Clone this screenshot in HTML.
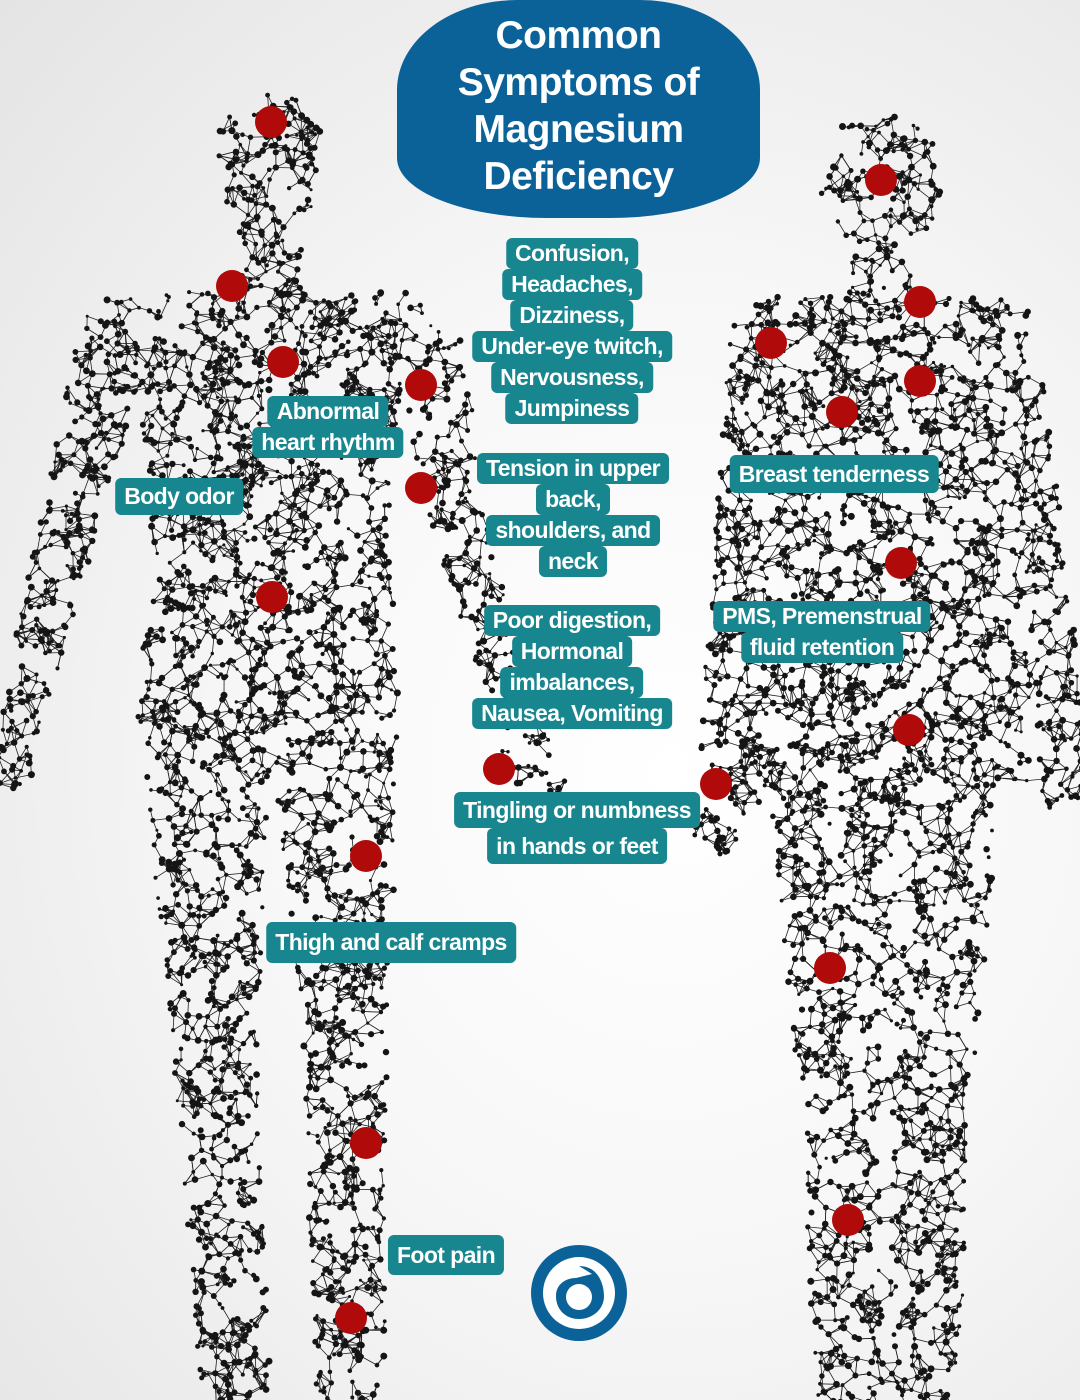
<!DOCTYPE html>
<html><head><meta charset="utf-8">
<style>
html,body{margin:0;padding:0}
body{width:1080px;height:1400px;position:relative;overflow:hidden;
background:radial-gradient(ellipse at 62% 55%,#ffffff 0%,#f7f7f7 45%,#e4e4e4 100%);
font-family:"Liberation Sans",sans-serif}
svg#fig{position:absolute;left:0;top:0}
.title{position:absolute;left:397px;top:0;width:363px;height:218px;background:#0b6298;border-radius:0 0 150px 150px / 0 0 60px 60px;
border-top-left-radius:120px 90px;border-top-right-radius:120px 90px;color:#fff;font-weight:bold;font-size:39px;line-height:47px;text-align:center;padding-top:12px;box-sizing:border-box;letter-spacing:-0.5px}
.lab{position:absolute;text-align:center;transform:translateX(-50%);white-space:nowrap}
.lab span{display:inline-block;background:#18868f;color:#fff;font-weight:bold;font-size:23px;letter-spacing:-0.6px;padding:0 9px;border-radius:6px;line-height:31px;margin:0}
.dot{position:absolute;width:32px;height:32px;border-radius:50%;background:#b00a0a;margin:-16px 0 0 -16px}
</style></head><body>
<svg id="fig" width="1080" height="1400" xmlns="http://www.w3.org/2000/svg"></svg>

<div class="title">Common<br>Symptoms of<br>Magnesium<br>Deficiency</div>

<div class="lab" style="left:572px;top:238px"><span>Confusion,</span><br><span>Headaches,</span><br><span>Dizziness,</span><br><span>Under-eye twitch,</span><br><span>Nervousness,</span><br><span>Jumpiness</span></div>
<div class="lab" style="left:328px;top:396px"><span>Abnormal</span><br><span>heart rhythm</span></div>
<div class="lab" style="left:179px;top:478px"><span style="line-height:37px">Body odor</span></div>
<div class="lab" style="left:573px;top:453px"><span>Tension in upper</span><br><span>back,</span><br><span>shoulders, and</span><br><span>neck</span></div>
<div class="lab" style="left:834px;top:455px"><span style="line-height:38px">Breast tenderness</span></div>
<div class="lab" style="left:572px;top:605px"><span>Poor digestion,</span><br><span>Hormonal</span><br><span>imbalances,</span><br><span>Nausea, Vomiting</span></div>
<div class="lab" style="left:822px;top:601px"><span>PMS, Premenstrual</span><br><span>fluid retention</span></div>
<div class="lab" style="left:577px;top:792px"><span style="line-height:36px">Tingling or numbness</span><br><span style="line-height:36px">in hands or feet</span></div>
<div class="lab" style="left:391px;top:922px"><span style="line-height:41px">Thigh and calf cramps</span></div>
<div class="lab" style="left:446px;top:1235px"><span style="line-height:40px">Foot pain</span></div>

<div class="dot" style="left:271px;top:122px"></div>
<div class="dot" style="left:232px;top:286px"></div>
<div class="dot" style="left:283px;top:362px"></div>
<div class="dot" style="left:421px;top:385px"></div>
<div class="dot" style="left:421px;top:488px"></div>
<div class="dot" style="left:272px;top:597px"></div>
<div class="dot" style="left:366px;top:856px"></div>
<div class="dot" style="left:366px;top:1143px"></div>
<div class="dot" style="left:351px;top:1318px"></div>
<div class="dot" style="left:499px;top:769px"></div>
<div class="dot" style="left:716px;top:784px"></div>
<div class="dot" style="left:881px;top:180px"></div>
<div class="dot" style="left:920px;top:302px"></div>
<div class="dot" style="left:771px;top:343px"></div>
<div class="dot" style="left:920px;top:381px"></div>
<div class="dot" style="left:842px;top:412px"></div>
<div class="dot" style="left:901px;top:563px"></div>
<div class="dot" style="left:909px;top:730px"></div>
<div class="dot" style="left:830px;top:968px"></div>
<div class="dot" style="left:848px;top:1220px"></div>

<svg style="position:absolute;left:530px;top:1244px" width="98" height="98" viewBox="0 0 98 98">
<circle cx="49" cy="49" r="48" fill="#0b6298"/>
<circle cx="49" cy="49" r="36" fill="#fff"/>
<path d="M49 22 C68 22 74 40 74 52 C74 66 62 75 49 75 C36 75 26 66 26 52 C26 40 36 34 46 34 L62 30 Z" fill="#0b6298"/>
<circle cx="49" cy="53" r="13" fill="#fff"/>
</svg>

<script>
(function(){
var s=12345;function r(){s=(s*1103515245+12345)%2147483648;return s/2147483648;}
var male=[[270,145,270,180,52,50,0],[270,215,270,300,30,34,1],[140,318,400,318,26,26,0],[270,300,270,520,140,118,1],[270,520,270,720,118,132,1],
[115,335,60,560,36,28,0],[60,560,10,770,28,22,0],[425,345,470,560,36,28,0],[470,560,530,760,28,24,0],[530,760,545,790,25,22,0],
[205,715,215,1050,66,42,1],[215,1050,235,1380,42,35,0],[335,715,345,1050,66,42,1],[345,1050,350,1380,42,35,0]];
var fem=[[880,175,880,190,62,60,0],[880,240,880,305,30,34,1],[775,318,995,318,24,24,0],[885,300,885,560,138,115,1],[885,560,890,800,115,145,1],
[765,335,740,570,35,28,0],[740,570,718,830,28,24,0],[1005,335,1040,570,35,28,0],[1040,570,1065,790,28,24,0],
[835,795,840,1100,65,42,1],[840,1100,850,1385,38,35,0],[935,795,930,1100,65,42,1],[930,1100,925,1385,38,35,0]];
var svg=document.getElementById('fig');var out=[];
function inside(caps,x,y){for(var k=0;k<caps.length;k++){var c=caps[k],dx=c[2]-c[0],dy=c[3]-c[1],L2=dx*dx+dy*dy;
 var t=((x-c[0])*dx+(y-c[1])*dy)/L2;if(c[6]&&(t<0||t>1))continue;t=t<0?0:t>1?1:t;var px=c[0]+dx*t,py=c[1]+dy*t,rad=c[4]+(c[5]-c[4])*t;
 if((x-px)*(x-px)+(y-py)*(y-py)<rad*rad)return true;}return false;}
function fig(caps,N){
 var x0=1e9,x1=-1e9,y0=1e9,y1=-1e9;caps.forEach(function(c){var m=Math.max(c[4],c[5]);
  x0=Math.min(x0,c[0]-m,c[2]-m);x1=Math.max(x1,c[0]+m,c[2]+m);y0=Math.min(y0,c[1]-m,c[3]-m);y1=Math.max(y1,c[1]+m,c[3]+m);});
 var pts=[];var guard=0;
 while(pts.length<N&&guard<600000){guard++;var x=x0+r()*(x1-x0),y=y0+r()*(y1-y0);if(inside(caps,x,y))pts.push([x,y]);}
 for(var i=0;i<pts.length;i++){var p=pts[i],c=0;
  for(var j=i+1;j<pts.length&&c<2;j++){var d=Math.hypot(pts[j][0]-p[0],pts[j][1]-p[1]);
   if(d<18&&r()<0.5){out.push('<line x1="'+p[0].toFixed(1)+'" y1="'+p[1].toFixed(1)+'" x2="'+pts[j][0].toFixed(1)+'" y2="'+pts[j][1].toFixed(1)+'"/>');c++;}}}
 var d=[];pts.forEach(function(p){var rr=(1.5+r()*2).toFixed(1);d.push('<circle cx="'+p[0].toFixed(1)+'" cy="'+p[1].toFixed(1)+'" r="'+rr+'"/>');});
 return d.join('');}
var c1=fig(male,4800),c2=fig(fem,4600);
svg.innerHTML='<g stroke="#222" stroke-width="0.8">'+out.join('')+'</g><g fill="#151515">'+c1+c2+'</g>';
})();
</script>
</body></html>
